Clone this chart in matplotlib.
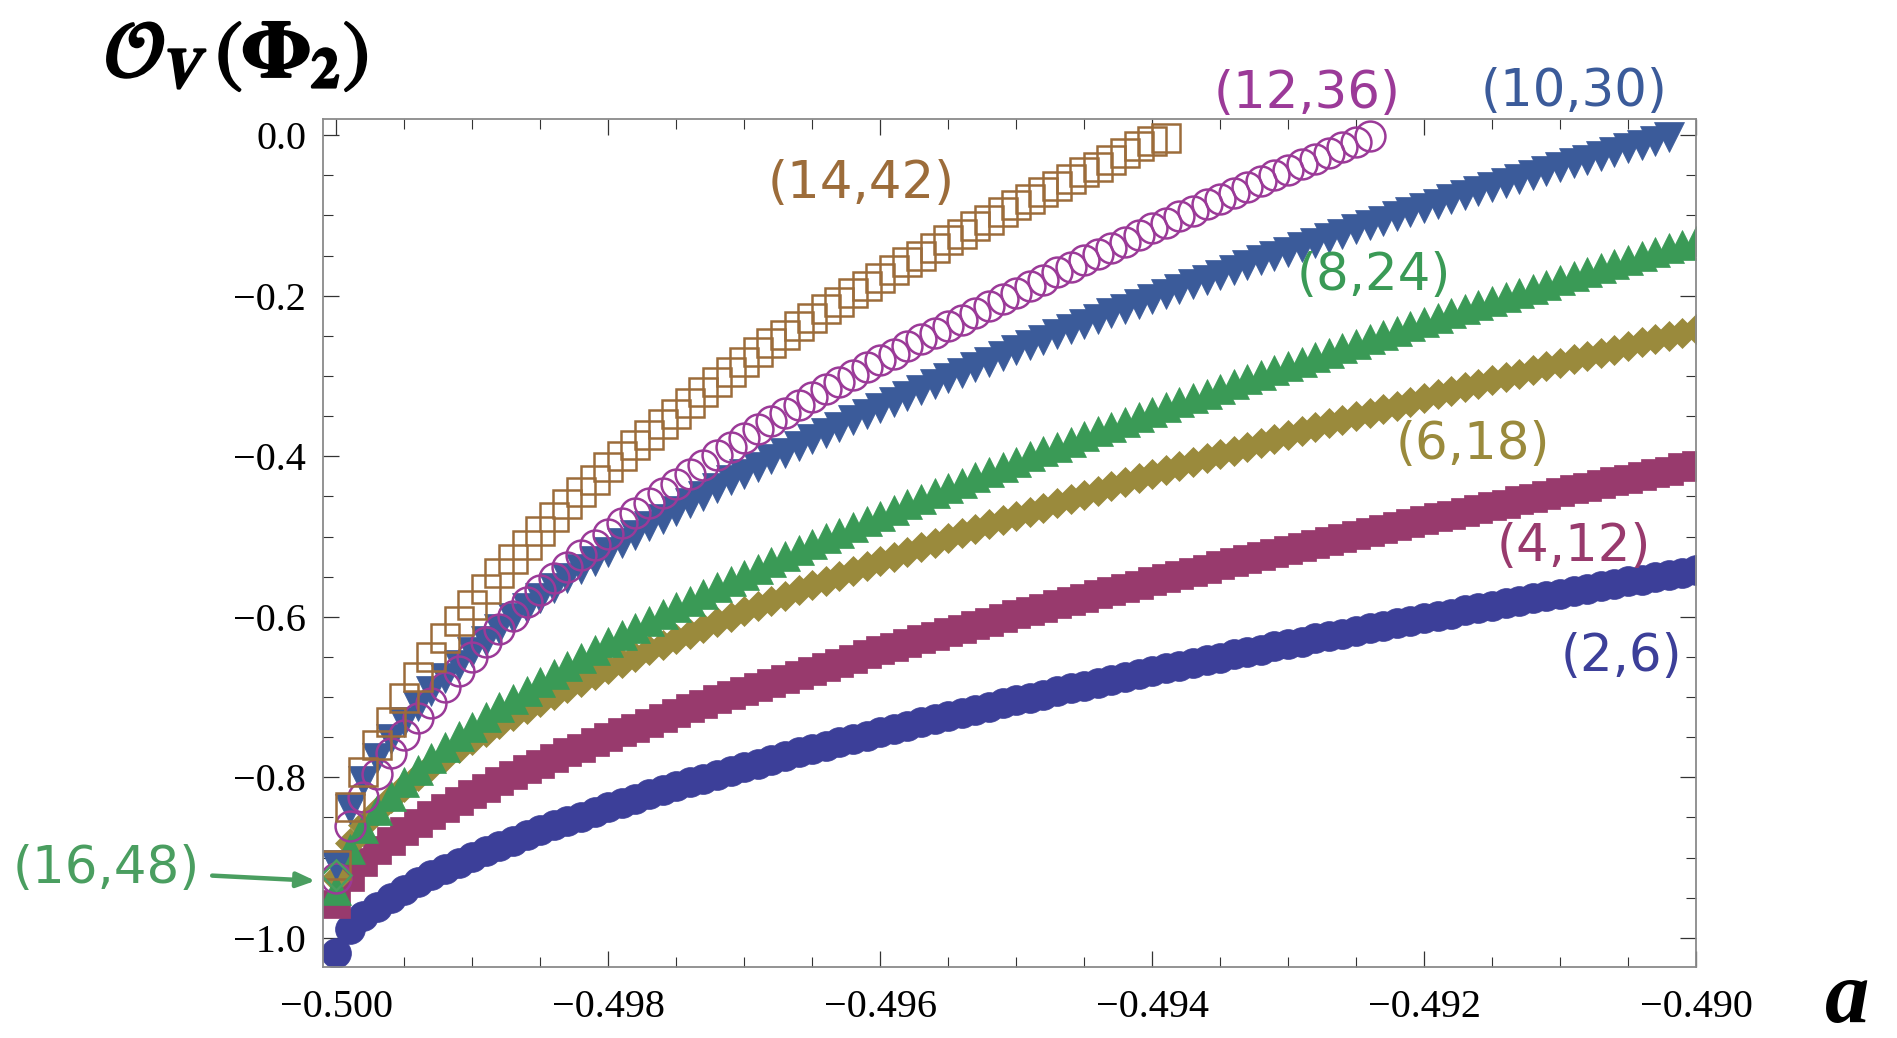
import matplotlib
matplotlib.use("Agg")
import matplotlib.pyplot as plt
from matplotlib.ticker import MultipleLocator, FuncFormatter
import matplotlib.patheffects as pe

# ---------------- data ----------------
a_grid = [
    -0.5000, -0.4999, -0.4998, -0.4997, -0.4996, -0.4995, -0.4994, -0.4993, -0.4992, -0.4991,
    -0.4990, -0.4989, -0.4988, -0.4987, -0.4986, -0.4985, -0.4984, -0.4983, -0.4982, -0.4981,
    -0.4980, -0.4979, -0.4978, -0.4977, -0.4976, -0.4975, -0.4974, -0.4973, -0.4972, -0.4971,
    -0.4970, -0.4969, -0.4968, -0.4967, -0.4966, -0.4965, -0.4964, -0.4963, -0.4962, -0.4961,
    -0.4960, -0.4959, -0.4958, -0.4957, -0.4956, -0.4955, -0.4954, -0.4953, -0.4952, -0.4951,
    -0.4950, -0.4949, -0.4948, -0.4947, -0.4946, -0.4945, -0.4944, -0.4943, -0.4942, -0.4941,
    -0.4940, -0.4939, -0.4938, -0.4937, -0.4936, -0.4935, -0.4934, -0.4933, -0.4932, -0.4931,
    -0.4930, -0.4929, -0.4928, -0.4927, -0.4926, -0.4925, -0.4924, -0.4923, -0.4922, -0.4921,
    -0.4920, -0.4919, -0.4918, -0.4917, -0.4916, -0.4915, -0.4914, -0.4913, -0.4912, -0.4911,
    -0.4910, -0.4909, -0.4908, -0.4907, -0.4906, -0.4905, -0.4904, -0.4903, -0.4902, -0.4901,
    -0.4900]

o_2_6 = [
    -1.019, -0.989, -0.973, -0.961, -0.950, -0.940, -0.931, -0.922, -0.914, -0.907, -0.899,
    -0.892, -0.885, -0.879, -0.872, -0.866, -0.860, -0.854, -0.849, -0.843, -0.837,
    -0.832, -0.827, -0.821, -0.816, -0.811, -0.806, -0.802, -0.797, -0.792, -0.787,
    -0.783, -0.778, -0.774, -0.769, -0.765, -0.761, -0.756, -0.752, -0.748, -0.744,
    -0.740, -0.736, -0.731, -0.727, -0.724, -0.720, -0.716, -0.712, -0.708, -0.704,
    -0.701, -0.697, -0.693, -0.689, -0.686, -0.682, -0.679, -0.675, -0.671, -0.668,
    -0.664, -0.661, -0.657, -0.654, -0.651, -0.647, -0.644, -0.641, -0.637, -0.634,
    -0.631, -0.627, -0.624, -0.621, -0.618, -0.614, -0.611, -0.608, -0.605, -0.602,
    -0.599, -0.596, -0.592, -0.589, -0.586, -0.583, -0.580, -0.577, -0.574, -0.571,
    -0.568, -0.565, -0.562, -0.559, -0.556, -0.554, -0.551, -0.548, -0.545, -0.542]

o_4_12 = [
    -0.958, -0.924, -0.906, -0.891, -0.879, -0.867, -0.857, -0.847, -0.838, -0.829, -0.821,
    -0.813, -0.805, -0.797, -0.790, -0.783, -0.776, -0.769, -0.763, -0.756, -0.750,
    -0.744, -0.738, -0.732, -0.726, -0.720, -0.714, -0.709, -0.703, -0.698, -0.692,
    -0.687, -0.682, -0.677, -0.672, -0.667, -0.662, -0.657, -0.652, -0.647, -0.642,
    -0.638, -0.633, -0.628, -0.624, -0.619, -0.615, -0.610, -0.606, -0.602, -0.597,
    -0.593, -0.589, -0.584, -0.580, -0.576, -0.572, -0.568, -0.564, -0.560, -0.556,
    -0.552, -0.548, -0.544, -0.540, -0.536, -0.532, -0.528, -0.524, -0.520, -0.517,
    -0.513, -0.509, -0.505, -0.502, -0.498, -0.494, -0.491, -0.487, -0.483, -0.480,
    -0.476, -0.473, -0.469, -0.466, -0.462, -0.459, -0.455, -0.452, -0.448, -0.445,
    -0.441, -0.438, -0.435, -0.431, -0.428, -0.424, -0.421, -0.418, -0.414, -0.411]

o_6_18 = [
    -0.925, -0.882, -0.860, -0.842, -0.826, -0.812, -0.799, -0.786, -0.775, -0.764, -0.753,
    -0.743, -0.734, -0.724, -0.715, -0.706, -0.698, -0.689, -0.681, -0.673, -0.665,
    -0.657, -0.650, -0.642, -0.635, -0.628, -0.621, -0.614, -0.607, -0.600, -0.593,
    -0.587, -0.580, -0.574, -0.567, -0.561, -0.555, -0.549, -0.543, -0.537, -0.531,
    -0.525, -0.519, -0.513, -0.508, -0.502, -0.496, -0.491, -0.485, -0.480, -0.474,
    -0.469, -0.464, -0.458, -0.453, -0.448, -0.443, -0.437, -0.432, -0.427, -0.422,
    -0.417, -0.412, -0.407, -0.402, -0.397, -0.393, -0.388, -0.383, -0.378, -0.374,
    -0.369, -0.364, -0.359, -0.355, -0.350, -0.346, -0.341, -0.337, -0.332, -0.328,
    -0.323, -0.319, -0.314, -0.310, -0.305, -0.301, -0.297, -0.292, -0.288, -0.284,
    -0.279, -0.275, -0.271, -0.267, -0.263, -0.258, -0.254, -0.250, -0.246, -0.242]

o_8_24 = [
    -0.940, -0.889, -0.863, -0.841, -0.823, -0.806, -0.791, -0.776, -0.762, -0.749, -0.737,
    -0.725, -0.713, -0.702, -0.692, -0.681, -0.671, -0.661, -0.651, -0.642, -0.632,
    -0.623, -0.614, -0.605, -0.597, -0.588, -0.580, -0.572, -0.563, -0.555, -0.548,
    -0.540, -0.532, -0.524, -0.517, -0.509, -0.502, -0.495, -0.488, -0.481, -0.474,
    -0.467, -0.460, -0.453, -0.446, -0.439, -0.433, -0.426, -0.420, -0.413, -0.407,
    -0.400, -0.394, -0.388, -0.382, -0.375, -0.369, -0.363, -0.357, -0.351, -0.345,
    -0.339, -0.333, -0.327, -0.322, -0.316, -0.310, -0.304, -0.299, -0.293, -0.287,
    -0.282, -0.276, -0.271, -0.265, -0.260, -0.254, -0.249, -0.244, -0.238, -0.233,
    -0.228, -0.222, -0.217, -0.212, -0.207, -0.202, -0.197, -0.191, -0.186, -0.181,
    -0.176, -0.171, -0.166, -0.161, -0.156, -0.151, -0.146, -0.141, -0.137, -0.132]

o_10_30 = [
    -0.909, -0.839, -0.804, -0.776, -0.752, -0.731, -0.711, -0.693, -0.676, -0.660, -0.644,
    -0.630, -0.615, -0.602, -0.589, -0.576, -0.564, -0.552, -0.541, -0.530, -0.519,
    -0.508, -0.498, -0.487, -0.478, -0.468, -0.458, -0.449, -0.440, -0.430, -0.422,
    -0.413, -0.404, -0.396, -0.387, -0.379, -0.371, -0.363, -0.355, -0.347, -0.340,
    -0.332, -0.325, -0.317, -0.310, -0.303, -0.296, -0.289, -0.282, -0.275, -0.268,
    -0.261, -0.255, -0.248, -0.242, -0.235, -0.229, -0.222, -0.216, -0.210, -0.204,
    -0.198, -0.191, -0.185, -0.180, -0.174, -0.168, -0.162, -0.156, -0.151, -0.145,
    -0.139, -0.134, -0.128, -0.123, -0.117, -0.112, -0.107, -0.101, -0.096, -0.091,
    -0.086, -0.080, -0.075, -0.070, -0.065, -0.060, -0.055, -0.050, -0.045, -0.040,
    -0.035, -0.031, -0.026, -0.021, -0.016, -0.012, -0.007, -0.002]

o_12_36 = [
    -0.926, -0.861, -0.825, -0.796, -0.770, -0.747, -0.726, -0.707, -0.688, -0.668, -0.650,
    -0.632, -0.615, -0.599, -0.582, -0.567, -0.552, -0.538, -0.523, -0.510, -0.497,
    -0.483, -0.471, -0.458, -0.446, -0.434, -0.422, -0.411, -0.399, -0.388, -0.377,
    -0.366, -0.356, -0.346, -0.336, -0.326, -0.316, -0.307, -0.299, -0.289, -0.280,
    -0.272, -0.263, -0.254, -0.246, -0.238, -0.230, -0.221, -0.213, -0.204, -0.196,
    -0.188, -0.180, -0.171, -0.164, -0.156, -0.148, -0.140, -0.133, -0.124, -0.116,
    -0.109, -0.101, -0.094, -0.086, -0.079, -0.072, -0.065, -0.057, -0.050, -0.043,
    -0.036, -0.029, -0.022, -0.015, -0.008, -0.001]

o_14_42 = [
    -0.909, -0.837, -0.794, -0.760, -0.731, -0.701, -0.675, -0.650, -0.627, -0.605, -0.585,
    -0.565, -0.546, -0.528, -0.510, -0.493, -0.476, -0.459, -0.444, -0.429, -0.414,
    -0.400, -0.386, -0.373, -0.360, -0.347, -0.334, -0.320, -0.307, -0.295, -0.283,
    -0.270, -0.259, -0.249, -0.238, -0.228, -0.217, -0.208, -0.197, -0.188, -0.178,
    -0.168, -0.158, -0.150, -0.140, -0.131, -0.123, -0.113, -0.105, -0.096, -0.087,
    -0.079, -0.071, -0.063, -0.054, -0.046, -0.039, -0.031, -0.022, -0.014, -0.007,
    -0.003]

o_16_48 = [-0.922]

series_values = [o_2_6, o_4_12, o_6_18, o_8_24, o_10_30, o_12_36, o_14_42, o_16_48]
series_labels = ["(2,6)", "(4,12)", "(6,18)", "(8,24)", "(10,30)", "(12,36)", "(14,42)", "(16,48)"]

# label anchor positions (data coordinates)
label_a = [-0.49055, -0.49090, -0.49164, -0.49237, -0.49090, -0.49286, -0.49614, -0.50169]
label_o = [-0.650, -0.513, -0.386, -0.1755, 0.054, 0.051, -0.061, -0.9144]

# ---------------- style ----------------
colors = ["#3c3f99", "#983a6d", "#9a8a3c", "#3a9a56", "#3b5b9a", "#9b3a98", "#9c6c3a", "#4a9e60"]
markers = ["o", "s", "D", "^", "v", "o", "s", "D"]
sizes = [21.5, 20.0, 15.0, 21.0, 22.0, 21.5, 20.0, 15.0]
filled = [True, True, True, True, True, False, False, False]

W, H = 1897, 1038
fig = plt.figure(figsize=(W / 100, H / 100), dpi=100)
ax = fig.add_axes([322.7 / W, 1 - 966.7 / H, (1696 - 322.7) / W, (966.7 - 118.7) / H])

for vals, c, m, ms, f in zip(series_values, colors, markers, sizes, filled):
    xs = a_grid[:len(vals)]
    if f:
        ax.plot(xs, vals, linestyle="none", marker=m, markersize=ms,
                markerfacecolor=c, markeredgecolor=c, markeredgewidth=0.5)
    else:
        ax.plot(xs, vals, linestyle="none", marker=m, markersize=ms,
                markerfacecolor="none", markeredgecolor=c, markeredgewidth=1.8)

ax.set_xlim(-0.5001, -0.4900)
ax.set_ylim(-1.036, 0.0206)

ax.xaxis.set_major_locator(MultipleLocator(0.002))
ax.xaxis.set_minor_locator(MultipleLocator(0.0005))
ax.yaxis.set_major_locator(MultipleLocator(0.2))
ax.yaxis.set_minor_locator(MultipleLocator(0.05))


def fmt_x(v, pos):
    return f"{v:.3f}".replace("-", "\u2212")


def fmt_y(v, pos):
    if abs(v) < 1e-9:
        return "0.0"
    return f"{v:.1f}".replace("-", "\u2212")


ax.xaxis.set_major_formatter(FuncFormatter(fmt_x))
ax.yaxis.set_major_formatter(FuncFormatter(fmt_y))

ax.tick_params(which="both", direction="in", top=True, right=True, color="#333333")
ax.tick_params(which="major", length=11.5, width=0.9)
ax.tick_params(which="minor", length=7, width=0.8)
ax.tick_params(axis="x", which="major", pad=16)
ax.tick_params(axis="y", which="major", pad=12)
for lab in ax.get_xticklabels() + ax.get_yticklabels():
    lab.set_fontfamily("Liberation Serif")
    lab.set_fontsize(29)
for sp in ax.spines.values():
    sp.set_color("#8a8a8a")
    sp.set_linewidth(1.3)

# curve labels
for txt, xa, yo, c in zip(series_labels, label_a, label_o, colors):
    ax.text(xa, yo, txt, color=c, fontsize=37, family="DejaVu Sans",
            ha="center", va="center", clip_on=False)

# arrow for (16,48)
ax.annotate("", xy=(-0.500154, -0.929), xytext=(-0.500913, -0.9225),
            arrowprops=dict(arrowstyle="-|>,head_length=1.1,head_width=0.45",
                            color=colors[7], lw=3.2, shrinkA=0, shrinkB=0),
            annotation_clip=False)

# axis labels
fig.text(236 / W, 1 - 55 / H,
         r"$\mathcal{O}_{\mathbfit{V}}\,(\mathbf{\Phi}_{\mathbf{2}})$",
         fontsize=58, math_fontfamily="stix", ha="center", va="center",
         path_effects=[pe.withStroke(linewidth=1.8, foreground="black")])
fig.text(1847 / W, 1 - 1022 / H, "a", fontsize=64, family="Liberation Serif",
         weight="bold", style="italic", ha="center", va="baseline")

fig.savefig("out.png", dpi=100)
